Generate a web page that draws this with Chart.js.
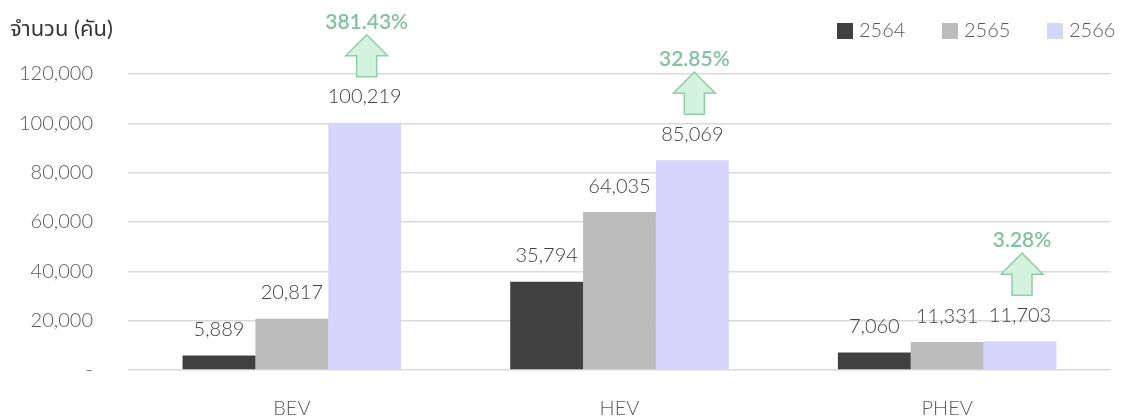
<!DOCTYPE html>
<html lang="th">
<head>
<meta charset="UTF-8">
<title>EV chart</title>
<script src="https://cdn.jsdelivr.net/npm/chart.js"></script>
<style>
  body { margin: 0; background: #fff; }
  #wrap { width: 1128px; height: 419px; }
</style>
</head>
<body>
<div id="wrap"><canvas id="evChart"></canvas></div>
<script>
const categories = ['BEV', 'HEV', 'PHEV'];
const years = ['2564', '2565', '2566'];
const v2564 = [5889, 35794, 7060];
const v2565 = [20817, 64035, 11331];
const v2566 = [100219, 85069, 11703];
const growth = ['381.43%', '32.85%', '3.28%'];
const yTitle = 'จำนวน (คัน)';

const colors = ['#404040', '#bcbcbc', '#d6d6fc'];
const FONT = "Lato, 'Noto Sans Thai', 'Noto Sans', sans-serif";

// value labels above each bar
const valueLabels = {
  id: 'valueLabels',
  afterDatasetsDraw(chart) {
    const ctx = chart.ctx;
    ctx.save();
    ctx.font = '300 20px ' + FONT;
    ctx.fillStyle = '#404040';
    ctx.textAlign = 'center';
    ctx.textBaseline = 'middle';
    chart.data.datasets.forEach((ds, i) => {
      chart.getDatasetMeta(i).data.forEach((bar, j) => {
        ctx.fillText(ds.data[j].toLocaleString('en-US'), bar.x, bar.y - 26);
      });
    });
    ctx.restore();
  }
};

// green growth arrows over the last year's bars
const growthArrows = {
  id: 'growthArrows',
  afterDatasetsDraw(chart) {
    const ctx = chart.ctx;
    const meta = chart.getDatasetMeta(2);
    ctx.save();
    meta.data.forEach((bar, j) => {
      const cx = bar.x + 2;
      const bottom = bar.y - 46;
      const tip = bottom - 42;
      const neck = tip + 21;
      ctx.beginPath();
      ctx.moveTo(cx, tip);
      ctx.lineTo(cx + 21, neck);
      ctx.lineTo(cx + 10, neck);
      ctx.lineTo(cx + 10, bottom);
      ctx.lineTo(cx - 10, bottom);
      ctx.lineTo(cx - 10, neck);
      ctx.lineTo(cx - 21, neck);
      ctx.closePath();
      ctx.fillStyle = '#d3f3de';
      ctx.fill();
      ctx.strokeStyle = '#8ecfa6';
      ctx.lineWidth = 1.5;
      ctx.stroke();

      ctx.font = '600 21px ' + FONT;
      ctx.fillStyle = '#82c2a2';
      ctx.textAlign = 'center';
      ctx.textBaseline = 'middle';
      ctx.fillText(growth[j], cx, tip - 13);
    });
    ctx.restore();
  }
};

// axis title top-left and legend top-right
const extras = {
  id: 'extras',
  afterDraw(chart) {
    const ctx = chart.ctx;
    ctx.save();
    ctx.font = '22px ' + FONT;
    ctx.fillStyle = '#333333';
    ctx.textAlign = 'left';
    ctx.textBaseline = 'middle';
    ctx.fillText(yTitle, 10, 29);

    ctx.font = '300 20px ' + FONT;
    let x = 837;
    chart.data.datasets.forEach((ds) => {
      ctx.fillStyle = ds.backgroundColor;
      ctx.fillRect(x, 23, 16, 16);
      ctx.fillStyle = '#595959';
      ctx.fillText(ds.label, x + 22, 31);
      x += 105;
    });
    ctx.restore();
  }
};

const data = {
  labels: categories,
  datasets: [
    { label: years[0], data: v2564, backgroundColor: colors[0] },
    { label: years[1], data: v2565, backgroundColor: colors[1] },
    { label: years[2], data: v2566, backgroundColor: colors[2] }
  ]
};

const config = {
  type: 'bar',
  data: data,
  options: {
    responsive: true,
    maintainAspectRatio: false,
    animation: false,
    datasets: {
      bar: { categoryPercentage: 0.667, barPercentage: 1.0, borderWidth: 0 }
    },
    layout: { padding: { top: 74, right: 17, bottom: 0, left: 0 } },
    plugins: {
      legend: { display: false },
      tooltip: { enabled: false }
    },
    scales: {
      x: {
        grid: { display: false, drawTicks: false },
        border: { display: false },
        ticks: { padding: 27, color: '#595959', font: { family: FONT, size: 20, weight: 300 } },
        afterFit(s) { s.height = 49; }
      },
      y: {
        min: 0,
        max: 120000,
        grid: { color: '#d9d9d9', lineWidth: 1.5, drawTicks: false },
        border: { display: false },
        ticks: {
          stepSize: 20000,
          padding: 35,
          color: '#595959',
          font: { family: FONT, size: 20, weight: 300 },
          callback: (v) => v === 0 ? '-' : v.toLocaleString('en-US')
        },
        afterFit(s) { s.width = 128; }
      }
    }
  },
  plugins: [valueLabels, growthArrows, extras]
};

const ctx = document.querySelector('#evChart').getContext('2d');
const myChart = new Chart(ctx, config);
</script>
</body>
</html>
